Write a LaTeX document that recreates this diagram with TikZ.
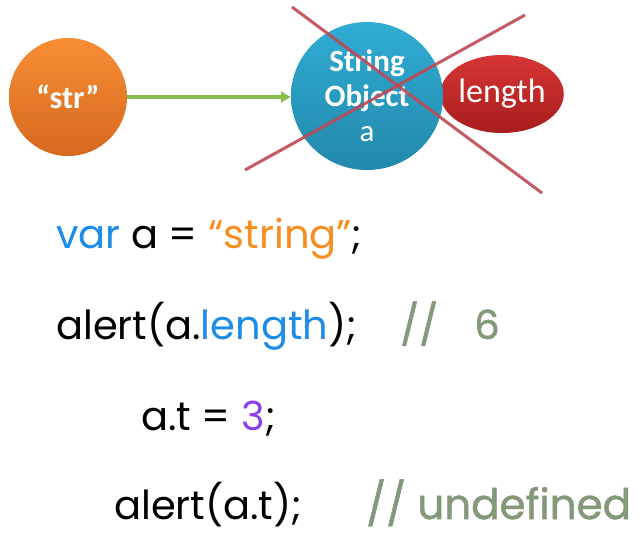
\documentclass[tikz,border=0pt]{standalone}
\usepackage{fontspec}
\setmainfont{Carlito}
\newfontfamily\codefont{Poppins}
\newfontfamily\cmtfont[FakeBold=1.2]{Poppins}
\usetikzlibrary{shapes.geometric,arrows.meta}
\definecolor{orA}{RGB}{247,142,52}
\definecolor{orB}{RGB}{214,104,32}
\definecolor{blA}{RGB}{48,172,212}
\definecolor{blB}{RGB}{34,136,170}
\definecolor{rdA}{RGB}{214,54,52}
\definecolor{rdB}{RGB}{168,28,30}
\definecolor{arrowgreen}{RGB}{140,190,80}
\definecolor{crossred}{RGB}{192,72,84}
\definecolor{kwblue}{RGB}{28,140,232}
\definecolor{strorange}{RGB}{246,142,32}
\definecolor{numpurple}{RGB}{140,62,232}
\definecolor{cmtgreen}{RGB}{132,152,122}
\tikzset{
  blob/.style={ellipse, inner sep=0pt, text=white},
  codeline/.style={anchor=base west, inner sep=0pt, font=\codefont\fontsize{40}{42}\selectfont},
  crossline/.style={draw=crossred, line width=3pt, opacity=0.9},
}
\begin{document}
\begin{tikzpicture}[x=1pt,y=-1pt]
\useasboundingbox[fill=white] (0,0) rectangle (644,536);
% blobs
\node[blob, minimum width=118pt, minimum height=118pt, top color=orA, bottom color=orB, font=\bfseries\fontsize{32}{34}\selectfont] (str) at (68,97) {“str”};
\node[blob, minimum width=122pt, minimum height=78pt, top color=rdA, bottom color=rdB, font=\fontsize{34}{36}\selectfont] (len) at (502,94) {length};
\node[blob, minimum width=152pt, minimum height=148pt, top color=blA, bottom color=blB, align=center, font=\fontsize{31}{35}\selectfont] (obj) at (367,96) {\textbf{String}\\\textbf{Object}\\a};
\draw[arrowgreen, line width=3.4pt, -{Triangle[length=10pt,width=11pt]}] (str.east) -- (str.east -| obj.west);
% cross
\coordinate (xa1) at (292,7);
\coordinate (xa2) at (542,193);
\coordinate (xb1) at (245,170);
\coordinate (xb2) at (525,15);
\draw[crossline] (xa1) -- (xa2);
\draw[crossline] (xb1) -- (xb2);
% code
\node[codeline] (l1) at (56,248) {\textcolor{kwblue}{var} a = \textcolor{strorange}{“string”};};
\node[codeline] (l2) at (56,339) {alert(a.\textcolor{kwblue}{length});};
\node[codeline, text=cmtgreen, font=\cmtfont\fontsize{40}{42}\selectfont] (c2) at (400,339) {//\hspace{36pt}6};
\node[codeline] (l3) at (141,430) {a.t = \textcolor{numpurple}{3};};
\node[codeline] (l4) at (114,519) {alert(a.t);};
\node[codeline, text=cmtgreen, font=\cmtfont\fontsize{42}{44}\selectfont] (c4) at (366,519) {// undefined};
\end{tikzpicture}
\end{document}
